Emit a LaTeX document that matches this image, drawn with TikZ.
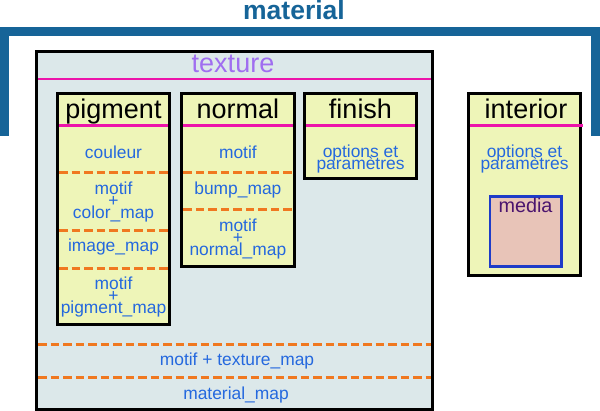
\documentclass[tikz,border=0pt]{standalone}
\usepackage{fontspec}
\setmainfont{Liberation Sans}
\definecolor{matblue}{RGB}{22,100,152}
\definecolor{texfill}{RGB}{220,232,234}
\definecolor{boxfill}{RGB}{238,245,184}
\definecolor{magline}{RGB}{236,20,170}
\definecolor{orangedash}{RGB}{240,120,32}
\definecolor{txtblue}{RGB}{36,104,222}
\definecolor{texpurple}{RGB}{160,110,240}
\definecolor{mediafill}{RGB}{232,196,184}
\definecolor{mediaborder}{RGB}{30,60,200}
\definecolor{mediatext}{RGB}{75,20,110}
\tikzset{
  frame/.style={draw=black, line width=3pt, anchor=north west, inner sep=0pt, outer sep=0pt},
  head/.style={font={\fontsize{27}{30}\selectfont}, anchor=base, inner sep=0pt},
  lbl/.style={text=txtblue, font={\fontsize{17.4}{12}\selectfont\lineskiplimit=-100pt\relax}, align=center, inner sep=0pt},
  hsep/.style={draw=magline, line width=2.5pt},
  dsep/.style={draw=orangedash, line width=3pt, dash pattern=on 8.5pt off 4pt},
  matline/.style={draw=matblue, line width=9pt, line join=miter},
}
\begin{document}
\begin{tikzpicture}[x=1pt,y=-1pt]
\useasboundingbox (0,0) rectangle (600,411);
% material bracket
\draw[matline] (4.5,136) -- (4.5,31.5) -- (595,31.5) -- (595,136);
\node[anchor=base, inner sep=0pt, text=matblue, font={\fontsize{26.5}{30}\selectfont\bfseries}] (mat) at (294,19.5) {material};
% texture
\node[frame, fill=texfill, minimum width=396pt, minimum height=358pt] (tex) at (36.5,51.5) {};
\node[head, text=texpurple] (texlbl) at (233,73) {texture};
\draw[hsep] ([xshift=1.5pt,yshift=-27.5pt]tex.north west) -- ([xshift=-1.5pt,yshift=-27.5pt]tex.north east);
\draw[dsep] ([xshift=1.5pt,yshift=-292.8pt]tex.north west) -- ([xshift=-1.5pt,yshift=-292.8pt]tex.north east);
\draw[dsep] ([xshift=1.5pt,yshift=-326.2pt]tex.north west) -- ([xshift=-1.5pt,yshift=-326.2pt]tex.north east);
\node[lbl, anchor=base] (tmap) at (237,366) {motif + texture\_map};
\node[lbl, anchor=base] (mmap) at (236,400) {material\_map};
% pigment
\node[frame, fill=boxfill, minimum width=112pt, minimum height=231pt] (pig) at (57.5,94) {};
\node[head] (pighd) at (113.5,119) {pigment};
\draw[hsep] ([xshift=1.5pt,yshift=-31.3pt]pig.north west) -- ([xshift=-1.5pt,yshift=-31.3pt]pig.north east);
\draw[dsep] ([xshift=1.5pt,yshift=-78.3pt]pig.north west) -- ([xshift=-1.5pt,yshift=-78.3pt]pig.north east);
\draw[dsep] ([xshift=1.5pt,yshift=-136.7pt]pig.north west) -- ([xshift=-1.5pt,yshift=-136.7pt]pig.north east);
\draw[dsep] ([xshift=1.5pt,yshift=-175pt]pig.north west) -- ([xshift=-1.5pt,yshift=-175pt]pig.north east);
\node[lbl, anchor=base] (p1) at (113.5,159) {couleur};
\node[lbl] (p2) at (113.5,202.5) {motif\\+\\color\_map};
\node[lbl, anchor=base] (p3) at (113.5,252) {image\_map};
\node[lbl] (p4) at (113.5,297.5) {motif\\+\\pigment\_map};
% normal
\node[frame, fill=boxfill, minimum width=112.2pt, minimum height=172.7pt] (nor) at (181.8,94) {};
\node[head] (norhd) at (237.9,119) {normal};
\draw[hsep] ([xshift=1.5pt,yshift=-31.3pt]nor.north west) -- ([xshift=-1.5pt,yshift=-31.3pt]nor.north east);
\draw[dsep] ([xshift=1.5pt,yshift=-78.3pt]nor.north west) -- ([xshift=-1.5pt,yshift=-78.3pt]nor.north east);
\draw[dsep] ([xshift=1.5pt,yshift=-116pt]nor.north west) -- ([xshift=-1.5pt,yshift=-116pt]nor.north east);
\node[lbl, anchor=base] (n1) at (237.9,159) {motif};
\node[lbl, anchor=base] (n2) at (237.9,195) {bump\_map};
\node[lbl] (n3) at (237.9,239.5) {motif\\+\\normal\_map};
% finish
\node[frame, fill=boxfill, minimum width=112.5pt, minimum height=84.2pt] (fin) at (304.3,94) {};
\node[head] (finhd) at (360.5,119) {finish};
\draw[hsep] ([xshift=1.5pt,yshift=-31.3pt]fin.north west) -- ([xshift=-1.5pt,yshift=-31.3pt]fin.north east);
\node[lbl] (f1) at (360.5,159.5) {options et\\paramètres};
% interior
\node[frame, fill=boxfill, minimum width=112.6pt, minimum height=181.8pt] (int) at (468.2,94) {};
\node[head] (inthd) at (526,119) {interior};
\draw[hsep] ([xshift=1.5pt,yshift=-31.3pt]int.north west) -- ([xshift=2.5pt,yshift=-31.3pt]int.north east);
\node[lbl] (i1) at (524.5,159.5) {options et\\paramètres};
\node[draw=mediaborder, fill=mediafill, line width=2.5pt, anchor=north west, inner sep=0pt, outer sep=0pt, minimum width=71.5pt, minimum height=70pt] (med) at (489.8,196.3) {};
\node[anchor=base, inner sep=0pt, text=mediatext, font={\fontsize{19.8}{22}\selectfont}] (medlbl) at (525.5,213) {media};
\end{tikzpicture}
\end{document}
